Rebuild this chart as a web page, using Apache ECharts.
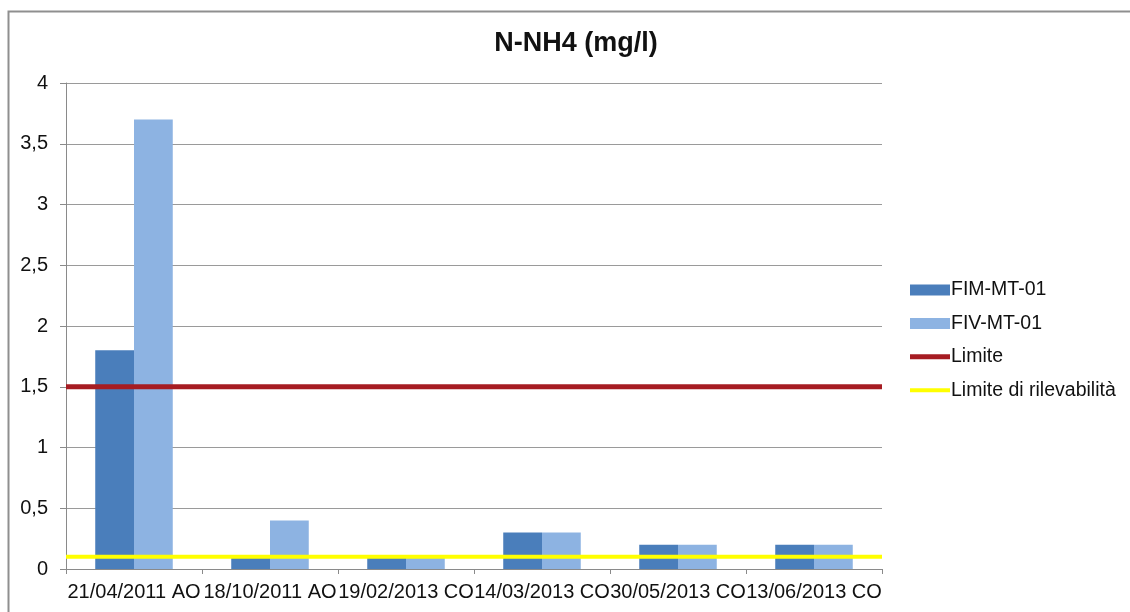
<!DOCTYPE html>
<html>
<head>
<meta charset="utf-8">
<script src="https://cdn.jsdelivr.net/npm/echarts@6/dist/echarts.min.js"></script>
<style>
html,body{margin:0;padding:0;background:#fff;}
#chart{width:1130px;height:612px;}
</style>
</head>
<body>
<div id="chart"></div>
<script>
const categories = ['21/04/2011 AO','18/10/2011 AO','19/02/2013 CO','14/03/2013 CO','30/05/2013 CO','13/06/2013 CO'];
const fimValues = [1.8, 0.1, 0.1, 0.3, 0.2, 0.2];
const fivValues = [3.7, 0.4, 0.1, 0.3, 0.2, 0.2];
const limiteValue = 1.5;
const rilevabilitaValue = 0.1;
const yTicks = ['0','0,5','1','1,5','2','2,5','3','3,5','4'];

const chart = echarts.init(document.getElementById('chart'));
const font = 'Liberation Sans, Arial, sans-serif';
chart.setOption({
  animation: false,
  backgroundColor: '#fff',
  textStyle: { fontFamily: font },
  title: {
    text: 'N-NH4 (mg/l)',
    left: 571, top: 25, textAlign: 'center',
    textStyle: { fontSize: 27, fontWeight: 'bold', color: '#111', fontFamily: font }
  },
  graphic: [{
    type: 'rect', silent: true, z: -1,
    shape: { x: 8.5, y: 11.5, width: 1300, height: 800 },
    style: { fill: null, stroke: '#8f8f8f', lineWidth: 2 }
  }],
  legend: {
    orient: 'vertical', left: 905, top: 275,
    itemWidth: 40, itemHeight: 11, itemGap: 13.4,
    textStyle: { fontSize: 19.5, color: '#111', fontFamily: font, padding: [0,0,0,-4] },
    data: [
      { name: 'FIM-MT-01', icon: 'rect' },
      { name: 'FIV-MT-01', icon: 'rect' },
      { name: 'Limite', icon: 'path://M0,0 H40 V5 H0 Z' },
      { name: 'Limite di rilevabilità', icon: 'path://M0,0 H40 V4 H0 Z' }
    ]
  },
  grid: { left: 66, right: 248, top: 83, bottom: 43, containLabel: false },
  xAxis: [{
    type: 'category', data: categories,
    axisLine: { lineStyle: { color: '#8a8a8a', width: 1 } },
    axisTick: { show: true, length: 5, lineStyle: { color: '#8a8a8a' } },
    axisLabel: { fontSize: 20, color: '#111', margin: 13, interval: 0, fontFamily: font }
  }, {
    type: 'value', min: 0, max: 1, show: false
  }],
  yAxis: {
    type: 'value', min: 0, max: 4, interval: 0.5,
    axisLine: { show: true, lineStyle: { color: '#8a8a8a' } },
    axisTick: { show: true, length: 6, lineStyle: { color: '#8a8a8a' } },
    splitLine: { lineStyle: { color: '#9a9a9a', width: 1 } },
    axisLabel: {
      fontSize: 20, color: '#111', margin: 18, fontFamily: font,
      formatter: function (v) { return yTicks[Math.round(v / 0.5)]; }
    }
  },
  series: [
    { name: 'FIM-MT-01', type: 'bar', data: fimValues, barGap: '0%', barCategoryGap: '43%',
      itemStyle: { color: '#4a7ebb' } },
    { name: 'FIV-MT-01', type: 'bar', data: fivValues, barGap: '0%', barCategoryGap: '43%',
      itemStyle: { color: '#8db3e2' } },
    { name: 'Limite', type: 'line', xAxisIndex: 1, symbol: 'none', z: 5,
      data: [[0, limiteValue], [1, limiteValue]],
      itemStyle: { color: '#a61c22' },
      lineStyle: { color: '#a61c22', width: 5 } },
    { name: 'Limite di rilevabilità', type: 'line', xAxisIndex: 1, symbol: 'none', z: 5,
      data: [[0, rilevabilitaValue], [1, rilevabilitaValue]],
      itemStyle: { color: '#ffff00' },
      lineStyle: { color: '#ffff00', width: 4 } }
  ]
});
</script>
</body>
</html>
